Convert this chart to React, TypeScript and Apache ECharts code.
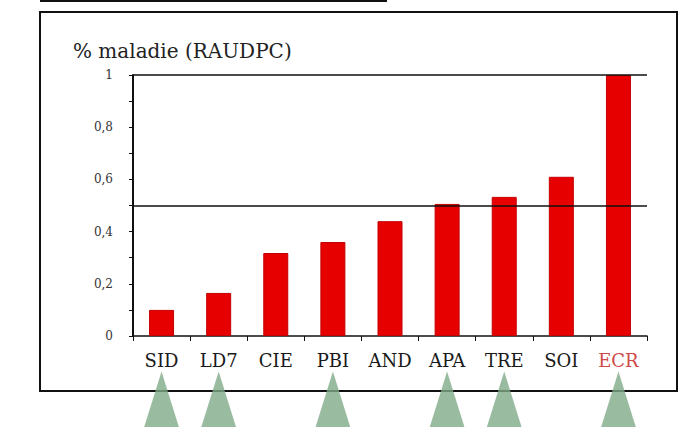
import React, { useEffect, useRef } from "react";
import * as echarts from "echarts";

const varieties = ["SID", "LD7", "CIE", "PBI", "AND", "APA", "TRE", "SOI", "ECR"];
const raudpc = [0.1, 0.165, 0.318, 0.36, 0.44, 0.506, 0.533, 0.61, 1.0];
const thresholds = [0.5, 1];
const markedVarieties = ["SID", "LD7", "PBI", "APA", "TRE", "ECR"];
const yTitle = "% maladie (RAUDPC)";

const SERIF = "'DejaVu Serif', 'Liberation Serif', serif";

export default function App() {
  const ref = useRef<HTMLDivElement>(null);
  useEffect(() => {
    if (!ref.current) return;
    const chart = echarts.init(ref.current, null, { renderer: "svg" });
    chart.setOption({
      animation: false,
      backgroundColor: "#ffffff",
      title: {
        text: yTitle,
        left: 73,
        top: 41,
        padding: 0,
        textStyle: { fontFamily: SERIF, fontSize: 20, fontWeight: "normal", color: "#222" },
      },
      graphic: [
        { type: "rect", shape: { x: 40, y: 12, width: 637, height: 379 }, style: { fill: "none", stroke: "#111", lineWidth: 2 }, silent: true },
        { type: "rect", shape: { x: 40, y: -2, width: 347, height: 4 }, style: { fill: "#111" }, silent: true },
      ],
      grid: [
        { left: 133, right: 33, top: 75, bottom: 91, containLabel: false },
        { left: 133, right: 33, top: 380, height: 64, containLabel: false },
      ],
      xAxis: [
        {
          type: "category",
          gridIndex: 0,
          data: varieties,
          axisLine: { lineStyle: { color: "#111", width: 1.5 } },
          axisTick: { show: true, length: 5, lineStyle: { color: "#111" } },
          axisLabel: {
            interval: 0,
            margin: 15,
            fontFamily: SERIF,
            fontSize: 18,
            color: "#1a1a1a",
            formatter: (v: string) => (v === "ECR" ? "{red|" + v + "}" : v),
            rich: { red: { color: "#d04a4a", fontFamily: SERIF, fontSize: 18 } },
          },
        },
        {
          type: "category",
          gridIndex: 1,
          data: varieties,
          show: false,
        },
      ],
      yAxis: [
        {
          type: "value",
          gridIndex: 0,
          min: 0,
          max: 1,
          interval: 0.1,
          splitLine: { show: false },
          axisLine: { show: true, lineStyle: { color: "#111", width: 2 } },
          axisTick: { show: true, length: 4, lineStyle: { color: "#111" } },
          axisLabel: {
            margin: 20,
            fontFamily: SERIF,
            fontSize: 12,
            color: "#333",
            formatter: (v: number) => {
              const t = Math.round(v * 10);
              if (t % 2 !== 0) return "";
              if (t === 0) return "0";
              if (t === 10) return "1";
              return (t / 10).toFixed(1).replace(".", ",");
            },
          },
        },
        { type: "value", gridIndex: 1, min: 0, max: 1, show: false },
      ],
      series: [
        {
          type: "bar",
          xAxisIndex: 0,
          yAxisIndex: 0,
          data: raudpc,
          barWidth: 25,
          itemStyle: { color: "#e60000", borderColor: "#c40000", borderWidth: 1 },
          markLine: {
            silent: true,
            symbol: "none",
            z: 10,
            label: { show: false },
            lineStyle: { color: "#111", width: 1.5, type: "solid" },
            data: thresholds.map((t) => ({ yAxis: t })),
          },
        },
        {
          type: "scatter",
          xAxisIndex: 1,
          yAxisIndex: 1,
          clip: false,
          symbol: "triangle",
          symbolSize: [40, 64],
          itemStyle: { color: "#80aa88" },
          data: markedVarieties.map((v) => [v, 0.5]),
        },
      ],
    });
    return () => chart.dispose();
  }, []);
  return (
    <div
      ref={ref}
      style={{ position: "absolute", left: 0, top: 0, width: 680, height: 427 }}
    />
  );
}
